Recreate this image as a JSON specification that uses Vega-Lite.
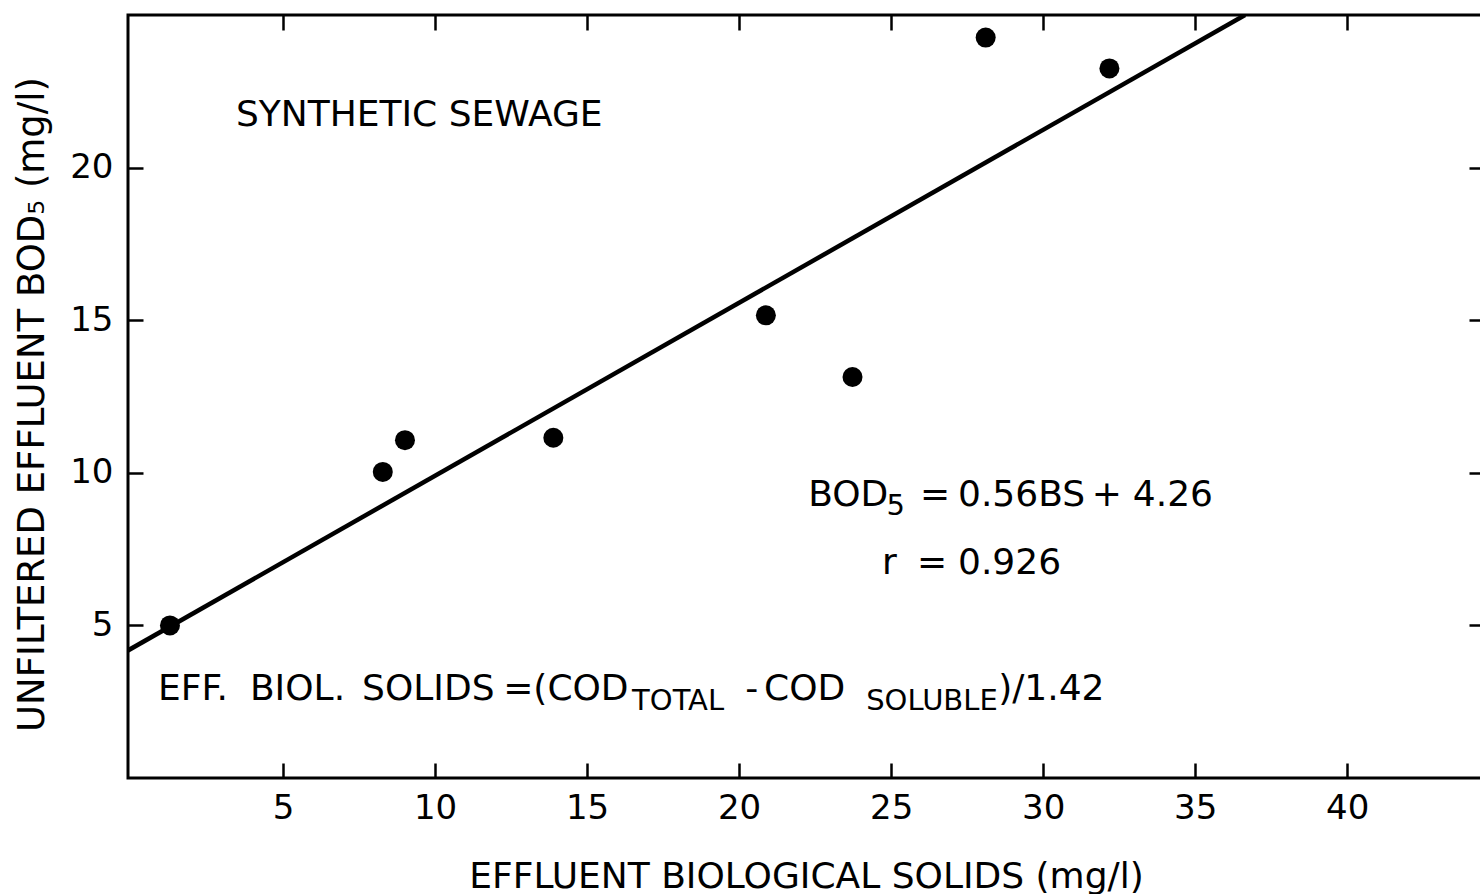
{
  "$schema": "https://vega.github.io/schema/vega-lite/v6.json",
  "width": 1356,
  "height": 763,
  "autosize": {"type": "none"},
  "padding": {"left": 128, "top": 15, "right": 0, "bottom": 116},
  "background": "white",
  "config": {
    "font": "DejaVu Sans",
    "view": {"stroke": "black", "strokeWidth": 3},
    "axis": {
      "domain": false,
      "grid": false,
      "tickColor": "black",
      "tickWidth": 2.5,
      "tickSize": -15,
      "labelColor": "black",
      "labelFont": "DejaVu Sans",
      "labelFontSize": 34,
      "titleColor": "black",
      "titleFont": "DejaVu Sans",
      "titleFontSize": 36,
      "titleFontWeight": "normal"
    }
  },
  "datasets": {
    "points": [
      {"bs": 1.28, "bod": 5.0},
      {"bs": 8.28, "bod": 10.03},
      {"bs": 9.01, "bod": 11.07},
      {"bs": 13.89, "bod": 11.15},
      {"bs": 20.88, "bod": 15.16},
      {"bs": 23.73, "bod": 13.14},
      {"bs": 28.11, "bod": 24.26},
      {"bs": 32.18, "bod": 23.25}
    ],
    "fit": [
      {"bs": -0.1, "bod": 4.18},
      {"bs": 36.64, "bod": 25.0}
    ],
    "notes": [
      {"t": "SYNTHETIC SEWAGE", "bs": 3.45, "bod": 21.72, "kind": "main"},
      {"t": "BOD", "bs": 22.27, "bod": 9.26, "kind": "main"},
      {"t": "5", "bs": 24.85, "bod": 8.9, "kind": "sub"},
      {"t": "=", "bs": 25.95, "bod": 9.26, "kind": "main"},
      {"t": "0.56BS", "bs": 27.2, "bod": 9.26, "kind": "main"},
      {"t": "+", "bs": 31.6, "bod": 9.26, "kind": "main"},
      {"t": "4.26", "bs": 32.95, "bod": 9.26, "kind": "main"},
      {"t": "r", "bs": 24.7, "bod": 7.03, "kind": "main"},
      {"t": "=", "bs": 25.85, "bod": 7.03, "kind": "main"},
      {"t": "0.926", "bs": 27.2, "bod": 7.03, "kind": "main"},
      {"t": "EFF.", "bs": 0.89, "bod": 2.93, "kind": "main"},
      {"t": "BIOL.", "bs": 3.91, "bod": 2.93, "kind": "main"},
      {"t": "SOLIDS", "bs": 7.6, "bod": 2.93, "kind": "main"},
      {"t": "=(COD", "bs": 12.24, "bod": 2.93, "kind": "main"},
      {"t": "TOTAL", "bs": 16.48, "bod": 2.52, "kind": "sub"},
      {"t": "-", "bs": 20.2, "bod": 2.93, "kind": "main"},
      {"t": "COD", "bs": 20.82, "bod": 2.93, "kind": "main"},
      {"t": "SOLUBLE", "bs": 24.18, "bod": 2.52, "kind": "sub"},
      {"t": ")/1.42", "bs": 28.52, "bod": 2.93, "kind": "main"}
    ]
  },
  "resolve": {"axis": {"x": "independent", "y": "independent"}},
  "layer": [
    {
      "data": {"name": "points"},
      "mark": {"type": "circle", "size": 400, "color": "black", "opacity": 1},
      "encoding": {
        "x": {
          "field": "bs", "type": "quantitative",
          "scale": {"domain": [-0.1, 44.5], "nice": false, "zero": false},
          "axis": {
            "orient": "bottom",
            "values": [5, 10, 15, 20, 25, 30, 35, 40],
            "labelPadding": 28,
            "title": "EFFLUENT BIOLOGICAL SOLIDS (mg/l)",
            "titlePadding": 34
          }
        },
        "y": {
          "field": "bod", "type": "quantitative",
          "scale": {"domain": [0, 25], "nice": false, "zero": false},
          "axis": {
            "orient": "left",
            "values": [5, 10, 15, 20],
            "labelPadding": 30,
            "title": "UNFILTERED EFFLUENT BOD₅ (mg/l)",
            "titleFontSize": 37,
            "titlePadding": 18,
            "titleY": 389
          }
        }
      }
    },
    {
      "data": {"name": "fit"},
      "mark": {"type": "line", "color": "black", "strokeWidth": 4.5, "clip": true},
      "encoding": {
        "x": {
          "field": "bs", "type": "quantitative",
          "axis": {"orient": "top", "values": [5, 10, 15, 20, 25, 30, 35, 40], "labels": false, "title": null}
        },
        "y": {
          "field": "bod", "type": "quantitative",
          "axis": {"orient": "right", "values": [5, 10, 15, 20], "labels": false, "title": null}
        }
      }
    },
    {
      "data": {"name": "notes"},
      "transform": [{"filter": "datum.kind === 'main'"}],
      "mark": {"type": "text", "align": "left", "baseline": "middle", "fontSize": 36, "color": "black", "font": "DejaVu Sans"},
      "encoding": {
        "x": {"field": "bs", "type": "quantitative", "axis": null},
        "y": {"field": "bod", "type": "quantitative", "axis": null},
        "text": {"field": "t"}
      }
    },
    {
      "data": {"name": "notes"},
      "transform": [{"filter": "datum.kind === 'sub'"}],
      "mark": {"type": "text", "align": "left", "baseline": "middle", "fontSize": 29, "color": "black", "font": "DejaVu Sans"},
      "encoding": {
        "x": {"field": "bs", "type": "quantitative", "axis": null},
        "y": {"field": "bod", "type": "quantitative", "axis": null},
        "text": {"field": "t"}
      }
    }
  ]
}
